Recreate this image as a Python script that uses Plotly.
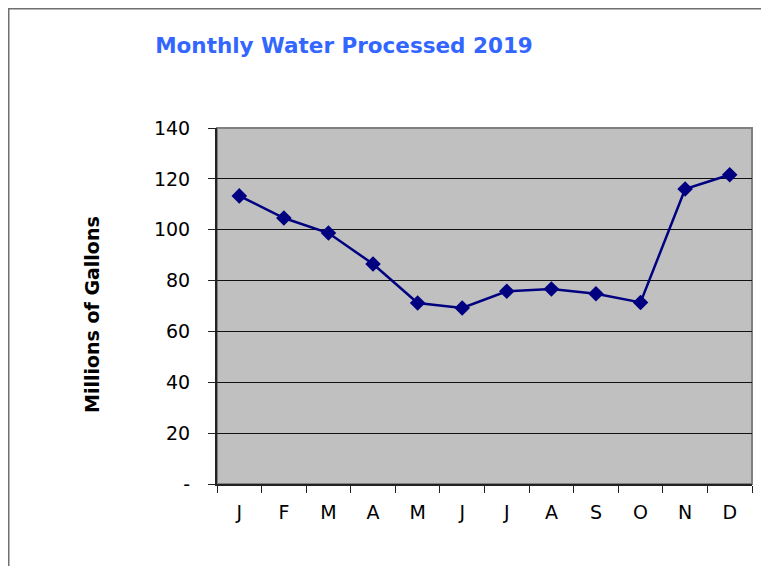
import plotly.graph_objects as go

months = ["Jan", "Feb", "Mar", "Apr", "May", "Jun", "Jul", "Aug", "Sep", "Oct", "Nov", "Dec"]
month_labels = ["J", "F", "M", "A", "M", "J", "J", "A", "S", "O", "N", "D"]
water_processed = [113.3, 104.6, 98.7, 86.5, 71.2, 69.2, 75.8, 76.7, 74.8, 71.4, 116.0, 121.6]
y_ticks = [0, 20, 40, 60, 80, 100, 120, 140]
y_tick_labels = ["-", "20", "40", "60", "80", "100", "120", "140"]

# page has an 8px body margin, so the figure is sized/positioned to compensate
OFF = 8
W, H = 769 - OFF, 566 - OFF
L, T = 217 - OFF, 128 - OFF
R = W - (752 - OFF)
B = H - (484 - OFF)
pw, ph = W - L - R, H - T - B

def px_x(px):
    return (px - OFF - L) / pw

def px_y(py):
    return (H - B - (py - OFF)) / ph

FONT = "DejaVu Sans, Liberation Sans, Arial, sans-serif"
x_idx = list(range(len(months)))

fig = go.Figure()
fig.add_trace(go.Scatter(
    x=x_idx, y=water_processed, mode="lines+markers",
    line=dict(color="#000080", width=2.5),
    marker=dict(symbol="diamond", size=12, color="#000080"),
    customdata=months, hovertemplate="%{customdata}: %{y}<extra></extra>",
))

fig.update_layout(
    width=W, height=H,
    margin=dict(l=L, r=R, t=T, b=B),
    paper_bgcolor="white", plot_bgcolor="#C0C0C0",
    showlegend=False,
    font=dict(family=FONT, color="black", size=19),
    title=dict(text="<b>Monthly Water Processed 2019</b>", x=(344 - OFF) / W, xanchor="center",
               xref="container", y=1 - (45 - OFF) / H, yref="container", yanchor="middle",
               font=dict(family=FONT, size=21.5, color="#3366FF")),
)

fig.update_xaxes(
    range=[-0.5, len(months) - 0.5], tickmode="array", tickvals=x_idx, ticktext=month_labels,
    ticks="", showgrid=False, zeroline=False, showline=True, linecolor="#222222", linewidth=2,
    ticklabelstandoff=10, tickfont=dict(size=19),
    minor=dict(tick0=-0.5, dtick=1, ticks="outside", ticklen=7, tickcolor="#222222", tickwidth=1, showgrid=False),
)
fig.update_yaxes(
    range=[0, 140], tickmode="array", tickvals=y_ticks, ticktext=y_tick_labels,
    ticks="outside", ticklen=7, tickcolor="#222222", tickwidth=1,
    showgrid=True, gridcolor="#111111", gridwidth=1, zeroline=False,
    showline=True, linecolor="#222222", linewidth=2, ticklabelstandoff=14,
    tickfont=dict(size=19),
)

# plot area border (gray) and outer chart frame
fig.add_shape(type="rect", xref="paper", yref="paper", x0=0, y0=0, x1=1, y1=1,
              line=dict(color="#808080", width=2), layer="below")
fig.add_shape(type="rect", xref="paper", yref="paper",
              x0=px_x(OFF + 0.75), y0=px_y(580), x1=px_x(767.5), y1=px_y(OFF + 0.75),
              line=dict(color="#707070", width=1.5))

fig.add_annotation(text="<b>Millions of Gallons</b>", xref="paper", yref="paper",
                   x=px_x(92), y=px_y(315), textangle=-90, showarrow=False,
                   xanchor="center", yanchor="middle",
                   font=dict(family=FONT, size=19, color="black"))

fig.write_html("out.html")
